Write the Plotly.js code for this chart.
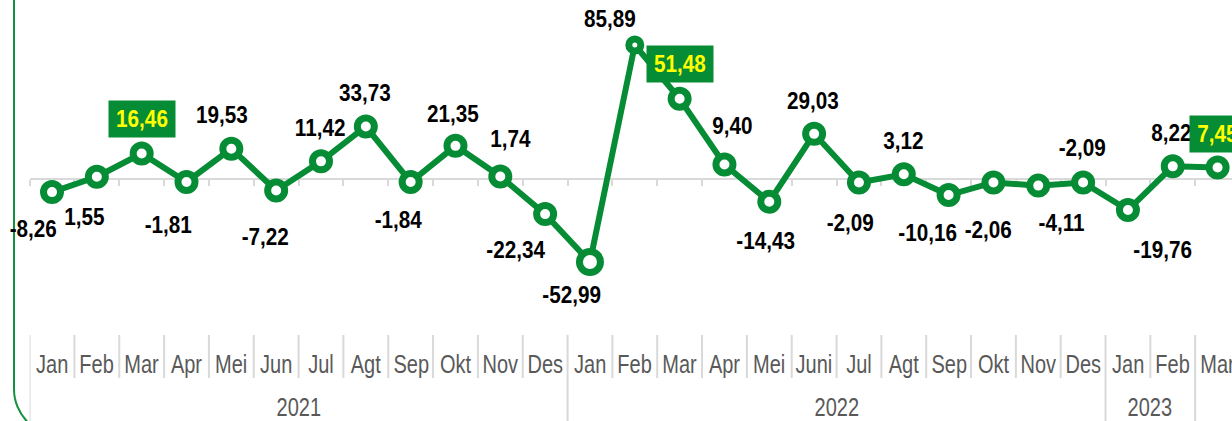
<!DOCTYPE html>
<html>
<head>
<meta charset="utf-8">
<script src="https://cdn.plot.ly/plotly-3.0.1.min.js"></script>
<style>
  html, body { margin:0; padding:0; background:#ffffff; overflow:hidden; }
  #wrap { position:relative; width:1232px; height:421px; overflow:hidden; background:#ffffff; }
  #chart { position:absolute; left:0; top:0; width:1232px; height:421px; }
  #frame { position:absolute; left:13px; top:-10px; width:600px; height:447px; box-sizing:border-box;
           border-left:2px solid #12913f; border-bottom:2px solid #12913f; border-bottom-left-radius:48px;
           pointer-events:none; }
</style>
</head>
<body>
<div id="wrap">
  <div id="frame"></div>
  <div id="chart"></div>
</div>
<script>
// ---- data ----
const months = ['Jan','Feb','Mar','Apr','Mei','Jun','Jul','Agt','Sep','Okt','Nov','Des',
                'Jan','Feb','Mar','Apr','Mei','Juni','Jul','Agt','Sep','Okt','Nov','Des',
                'Jan','Feb','Mar'];
const values = [-8.26, 1.55, 16.46, -1.81, 19.53, -7.22, 11.42, 33.73, -1.84, 21.35, 1.74, -22.34,
                -52.99, 85.89, 51.48, 9.40, -14.43, 29.03, -2.09, 3.12, -10.16, -2.06, -4.11, -2.09,
                -19.76, 8.22, 7.45];
const yearLabels = ['2021', '2022', '2023', ''];
const yearCounts = [12, 12, 2, 1];
const highlighted = [2, 14, 26];

// ---- styling / placement (not data) ----
const GREEN = '#078c36';
const labelOffsets = [[-19,37],[-12,40],[0,-34],[-18,43],[-9,-34],[-11,47],[-1,-33],[-1,-34],[-12,38],[-2,-32],[10,-37],[-30,36],
                      [-18,33],[-25,-26],[0,-35],[8,-39],[-4,39],[-1,-33],[-9,41],[0,-33],[-21,38],[-5,48],[23,37],[-1,-34],
                      [35,40],[-1,-33],[0,-34]];
const xs = values.map((v, i) => i);
const markerSizes = values.map((v, i) => i === 12 ? 21 : (i === 13 ? 12 : 17));
const fmt = v => v.toFixed(2).replace('.', ',');

const SANS = 'Liberation Sans, Arial, sans-serif';
const LABEL_SCALE = 0.9, AXIS_SCALE = 0.8;

const trace = {
  x: xs, y: values, type: 'scatter', mode: 'lines+markers',
  line: { color: GREEN, width: 6 },
  marker: { symbol: 'circle', size: markerSizes, opacity: 1, color: '#ffffff', line: { color: GREEN, width: 7 } },
  hoverinfo: 'skip', cliponaxis: false
};

// boundaries between categories
const boundaries = [];
for (let i = 0; i <= months.length; i++) boundaries.push(i - 0.5);

// year boundaries
const yearBounds = [-0.5];
let acc = -0.5;
yearCounts.forEach(c => { acc += c; yearBounds.push(acc); });

const H = 421;
const py = p => 1 - p / H;   // pixel-from-top to paper

const shapes = [];
boundaries.forEach(b => {
  const isYear = yearBounds.includes(b);
  shapes.push({ type: 'line', xref: 'x', yref: 'paper', x0: b, x1: b,
    y0: py(335), y1: isYear ? py(425) : py(378),
    line: { color: '#d9d9d9', width: 2 }, layer: 'below' });
});

const annotations = [];
// data labels
values.forEach((v, i) => {
  const hl = highlighted.includes(i);
  const txt = fmt(v);
  const a = {
    x: i, y: v, xref: 'x', yref: 'y', text: txt, showarrow: false,
    xanchor: 'center', yanchor: 'middle',
    xshift: labelOffsets[i][0], yshift: -labelOffsets[i][1],
    font: { family: SANS, size: 23, weight: 'bold', color: hl ? '#ffff00' : '#000000' }
  };
  if (hl) {
    a.bgcolor = GREEN;
    a.borderpad = 3;
    a.width = txt.length === 5 ? 60 : 49;
    a.height = 30;
  }
  annotations.push(a);
});
// month labels
months.forEach((m, i) => {
  annotations.push({ x: i, y: py(364), xref: 'x', yref: 'paper', text: m, showarrow: false,
    xanchor: 'center', yanchor: 'middle',
    font: { family: SANS, size: 25, color: '#595959' } });
});
// year labels
let start = 0;
yearLabels.forEach((yl, k) => {
  const end = start + yearCounts[k] - 1;
  if (yl) {
    annotations.push({ x: (start + end) / 2, y: py(407), xref: 'x', yref: 'paper', text: yl, showarrow: false,
      xanchor: 'center', yanchor: 'middle',
      font: { family: SANS, size: 25, color: '#595959' } });
  }
  start = end + 1;
});

const pxPerCat = 44.83;
const leftPx = 29.6;
const xRange = [-0.5, -0.5 + (1232 - leftPx) / pxPerCat];
const zeroPx = 179.2, pxPerUnit = 1.5625;
const yTop = zeroPx / pxPerUnit;
const yRange = [yTop - H / pxPerUnit, yTop];

const layout = {
  width: 1232, height: 421,
  margin: { l: 0, r: 0, t: 0, b: 0, pad: 0 },
  paper_bgcolor: 'rgba(0,0,0,0)', plot_bgcolor: 'rgba(0,0,0,0)',
  showlegend: false,
  xaxis: {
    domain: [leftPx / 1232, 1], range: xRange, anchor: 'free', position: py(zeroPx),
    showgrid: false, zeroline: false, showline: true, linecolor: '#d9d9d9', linewidth: 2,
    ticks: 'outside', tickvals: boundaries, ticklen: 6, tickwidth: 2, tickcolor: '#d9d9d9',
    showticklabels: false, layer: 'below traces', fixedrange: true
  },
  yaxis: { range: yRange, visible: false, showgrid: false, zeroline: false, fixedrange: true },
  shapes: shapes,
  annotations: annotations
};

Plotly.newPlot('chart', [trace], layout, { displayModeBar: false, staticPlot: true }).then(gd => {
  // emulate the condensed (Arial Narrow–like) face by narrowing each text horizontally about its centre
  const nodes = gd.querySelectorAll('g.annotation');
  nodes.forEach((g, idx) => {
    const t = g.querySelector('text.annotation-text');
    if (!t) return;
    const s = idx < values.length ? LABEL_SCALE : AXIS_SCALE;
    const b = t.getBBox();
    const cx = b.x + b.width / 2;
    t.setAttribute('transform', 'translate(' + cx + ',0) scale(' + s + ',1) translate(' + (-cx) + ',0)');
  });
});
</script>
</body>
</html>
